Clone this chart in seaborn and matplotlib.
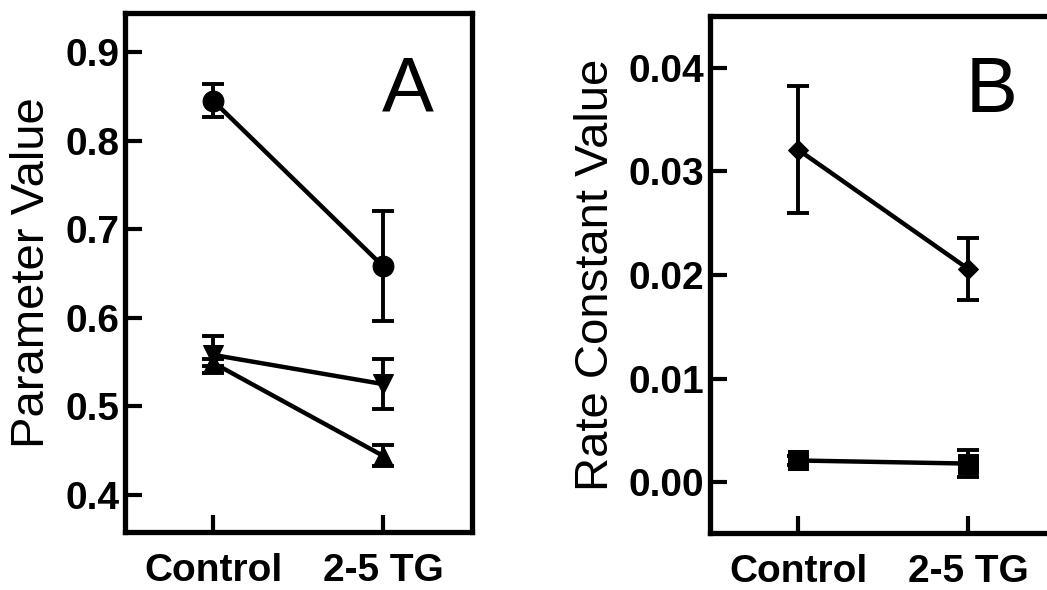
"""Two-panel parameter comparison (Control vs 2-5 TG) with SEM error bars."""

import matplotlib
matplotlib.use("Agg")
import matplotlib.pyplot as plt
import numpy as np
import pandas as pd
import seaborn as sns

GROUPS = ["Control", "2-5 TG"]

# panel A
circle_mean = [0.845, 0.658]
circle_err = [0.019, 0.062]
down_mean = [0.558, 0.525]
down_err = [0.021, 0.028]
up_mean = [0.549, 0.444]
up_err = [0.004, 0.012]

# panel B
diamond_mean = [0.0321, 0.0206]
diamond_err = [0.0061, 0.0030]
square_mean = [0.0021, 0.0018]
square_err = [0.0004, 0.0013]

A_TICKS = [0.4, 0.5, 0.6, 0.7, 0.8, 0.9]
B_TICKS = [0.00, 0.01, 0.02, 0.03, 0.04]


def draw_series(ax, mean, err, marker, ms):
    x = np.arange(len(GROUPS))
    df = pd.DataFrame({"x": x, "y": mean})
    sns.lineplot(data=df, x="x", y="y", ax=ax, color="black", lw=3.2,
                 marker=marker, markersize=ms, markeredgecolor="black",
                 markerfacecolor="black", legend=False, zorder=3)
    ax.errorbar(x, mean, yerr=err, fmt="none", ecolor="black", elinewidth=2.8,
                capsize=8, capthick=2.8, zorder=2)


def style_axes(ax, ylim, yticks, fmt, ylabel, letter, letter_pos):
    ax.set_xlim(-0.518, 1.523)
    ax.set_ylim(*ylim)
    ax.set_xticks(range(len(GROUPS)))
    ax.set_xticklabels(GROUPS)
    ax.set_yticks(yticks)
    ax.set_yticklabels([fmt.format(t) for t in yticks])
    ax.set_xlabel("")
    ax.set_ylabel(ylabel, fontsize=34, labelpad=8)
    for s in ax.spines.values():
        s.set_linewidth(3.8)
        s.set_visible(True)
        s.set_color("black")
    ax.tick_params(axis="both", direction="in", length=12, width=3.0,
                   top=False, right=False, colors="black")
    ax.tick_params(axis="y", pad=4)
    ax.tick_params(axis="x", pad=15)
    for lab in ax.get_xticklabels() + ax.get_yticklabels():
        lab.set_fontweight("bold")
        lab.set_fontsize(28)
    ax.text(*letter_pos, letter, transform=ax.transAxes, fontsize=56,
            ha="center", va="center", color="black")


sns.set_theme(style="ticks", rc={"text.color": "black", "axes.labelcolor": "black",
                                 "axes.edgecolor": "black", "xtick.color": "black",
                                 "ytick.color": "black"})
plt.rcParams["font.family"] = ["Liberation Sans", "DejaVu Sans"]

fig = plt.figure(figsize=(10.47, 5.90), dpi=100)
ax_a = fig.add_axes([0.1194, 0.0983, 0.3314, 0.8797])
ax_b = fig.add_axes([0.6781, 0.0966, 0.3314, 0.8763])

draw_series(ax_a, circle_mean, circle_err, "o", 15)
draw_series(ax_a, down_mean, down_err, "v", 15)
draw_series(ax_a, up_mean, up_err, "^", 15)
style_axes(ax_a, (0.358, 0.944), A_TICKS, "{:.1f}", "Parameter Value", "A",
           (0.816, 0.85))

draw_series(ax_b, diamond_mean, diamond_err, "D", 10)
draw_series(ax_b, square_mean, square_err, "s", 14)
style_axes(ax_b, (-0.0049, 0.0450), B_TICKS, "{:.2f}", "Rate Constant Value", "B",
           (0.811, 0.853))

fig.savefig("out.png", dpi=100)
